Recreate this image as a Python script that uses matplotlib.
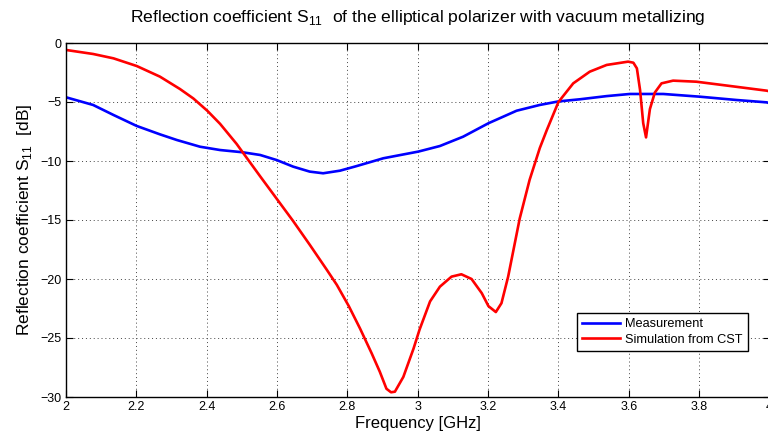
import matplotlib
matplotlib.use("Agg")
import matplotlib.pyplot as plt

plt.rcParams['font.family'] = ['Liberation Sans', 'DejaVu Sans']
plt.rcParams['mathtext.fontset'] = 'custom'
plt.rcParams['mathtext.rm'] = 'Liberation Sans'

# Measured S11 (GHz, dB)
meas_f = [2.0, 2.077, 2.135, 2.201, 2.267, 2.315, 2.381, 2.438, 2.502, 2.552, 2.599,
          2.646, 2.693, 2.731, 2.779, 2.824, 2.902, 3.002, 3.063, 3.129, 3.201,
          3.281, 3.347, 3.4, 3.461, 3.537, 3.603, 3.698, 3.802, 3.906, 3.992, 4.0]
meas_db = [-4.6, -5.25, -6.1, -7.03, -7.74, -8.22, -8.79, -9.07, -9.26, -9.49, -9.92,
           -10.48, -10.9, -11.04, -10.82, -10.45, -9.77, -9.2, -8.73, -7.94, -6.8,
           -5.74, -5.25, -4.95, -4.77, -4.5, -4.32, -4.32, -4.55, -4.83, -5.03, -5.1]

# CST simulation of S11 (GHz, dB)
sim_f = [2.0, 2.077, 2.135, 2.201, 2.267, 2.324, 2.362, 2.402, 2.438, 2.485, 2.502,
         2.552, 2.599, 2.646, 2.693, 2.741, 2.77, 2.804, 2.836, 2.869, 2.892,
         2.911, 2.924, 2.935, 2.959, 2.988, 3.005, 3.035, 3.063, 3.096, 3.124,
         3.153, 3.182, 3.201, 3.222, 3.238, 3.257, 3.29, 3.318, 3.347, 3.367,
         3.4, 3.442, 3.489, 3.537, 3.598, 3.613, 3.623, 3.632, 3.641, 3.649,
         3.66, 3.674, 3.693, 3.726, 3.792, 3.887, 3.992, 4.0]
sim_db = [-0.59, -0.93, -1.3, -1.95, -2.85, -3.9, -4.7, -5.75, -6.85, -8.55, -9.25,
          -11.3, -13.2, -15.1, -17.1, -19.2, -20.5, -22.3, -24.2, -26.3, -27.85,
          -29.3, -29.6, -29.55, -28.3, -25.9, -24.3, -21.9, -20.65, -19.8, -19.6,
          -20.0, -21.2, -22.3, -22.8, -22.05, -19.8, -14.86, -11.6, -8.9, -7.37,
          -5.0, -3.42, -2.43, -1.86, -1.58, -1.67, -2.15, -3.98, -6.8, -8.0,
          -5.6, -4.2, -3.42, -3.19, -3.28, -3.64, -4.04, -4.1]

x_ticks = [2.0, 2.2, 2.4, 2.6, 2.8, 3.0, 3.2, 3.4, 3.6, 3.8, 4.0]
x_tick_labels = ['2', '2.2', '2.4', '2.6', '2.8', '3', '3.2', '3.4', '3.6', '3.8', '4']
y_ticks = [-30, -25, -20, -15, -10, -5, 0]
y_tick_labels = ['\u221230', '\u221225', '\u221220', '\u221215', '\u221210', '\u22125', '0']

fig = plt.figure(figsize=(7.68, 4.37), dpi=100)
ax = fig.add_axes([66/768, 40/437, 703.5/768, 354/437])

ax.plot(meas_f, meas_db, color='#0000ff', lw=1.9, label='Measurement')
ax.plot(sim_f, sim_db, color='#ff0000', lw=1.9, label='Simulation from CST')

ax.set_xlim(2, 4)
ax.set_ylim(-30, 0)
ax.set_xticks(x_ticks)
ax.set_xticklabels(x_tick_labels)
ax.set_yticks(y_ticks)
ax.set_yticklabels(y_tick_labels)
ax.tick_params(direction='in', length=5, width=0.8, labelsize=9, pad=3,
               top=True, right=True)
ax.grid(True, linestyle=(0, (1, 3)), color='#444444', linewidth=0.7)
for s in ax.spines.values():
    s.set_linewidth(1.0)

ax.set_xlabel('Frequency [GHz]', fontsize=12, labelpad=2)
ax.set_ylabel(r'Reflection coefficient S$_{\mathregular{11}}$  [dB]', fontsize=12.5, labelpad=5)
ax.set_title(r'Reflection coefficient S$_{\mathregular{11}}$  of the elliptical polarizer with vacuum metallizing',
             fontsize=12.6, pad=15)

leg = ax.legend(loc='lower right', bbox_to_anchor=(748/768, 86/437),
                bbox_transform=fig.transFigure, borderaxespad=0,
                fontsize=9.2, fancybox=False,
                framealpha=1, edgecolor='black', borderpad=0.4,
                handlelength=3.0, labelspacing=0.3, handletextpad=0.4)
leg.get_frame().set_linewidth(1.0)

fig.savefig('out.png', dpi=100)
